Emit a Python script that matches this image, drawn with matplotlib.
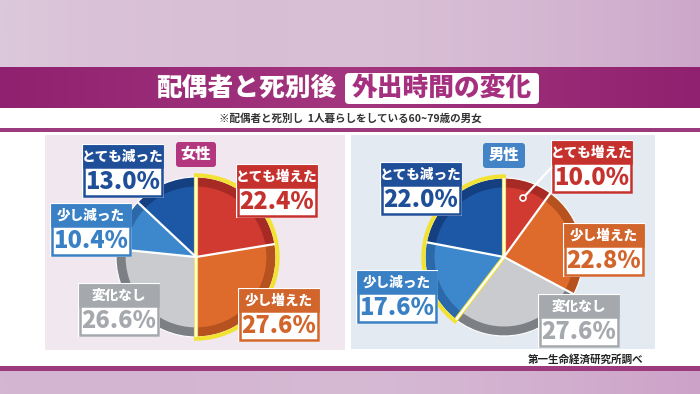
import matplotlib
matplotlib.use('Agg')
import matplotlib.pyplot as plt
import numpy as np
from matplotlib.patches import Rectangle, FancyBboxPatch, Wedge, Circle
from matplotlib.colors import to_rgb

plt.rcParams['font.family'] = ['Noto Sans CJK JP', 'DejaVu Sans']

# ---------------- data ----------------
categories = ['とても増えた', '少し増えた', '変化なし', '少し減った', 'とても減った']
female_values = [22.4, 27.6, 26.6, 10.4, 13.0]
male_values = [10.0, 22.8, 27.6, 17.6, 22.0]
panel_titles = ['女性', '男性']
title_left = '配偶者と死別後'
title_right = '外出時間の変化'
subtitle = '※配偶者と死別し  1人暮らしをしている60~79歳の男女'
source = '第一生命経済研究所調べ'

face_colors = ['#d13a30', '#de6a2c', '#c9cbce', '#3d88cd', '#1d58a7']
rim_colors = ['#a82a25', '#b5521f', '#7c7f83', '#2b69a9', '#143f81']
label_colors = ['#c5312d', '#d2652b', '#a5a9ad', '#3a80c4', '#1f4f98']
highlight = '#f2e234'

W, H = 700, 394
fig = plt.figure(figsize=(7, 3.94), dpi=100)

# ---------------- background ----------------
bg = fig.add_axes([0, 0, 1, 1])
bg.set_xlim(0, W); bg.set_ylim(H, 0); bg.axis('off')

def hgrad(ax, x0, x1, y0, y1, c_left, c_right, c_mid=None):
    n = 200
    t = np.linspace(0, 1, n)
    a, b = np.array(to_rgb(c_left)), np.array(to_rgb(c_right))
    base = a[None, :] * (1 - t[:, None]) + b[None, :] * t[:, None]
    if c_mid is None:
        cols = base
    else:
        m = np.array(to_rgb(c_mid))
        w = 1 - np.abs(2 * t - 1)
        cols = base * (1 - w[:, None]) + m[None, :] * w[:, None]
    img = cols[None, :, :]
    ax.imshow(img, extent=(x0, x1, y1, y0), aspect='auto', zorder=0, interpolation='bilinear')

bg.add_patch(Rectangle((0, 0), W, H, facecolor='white', edgecolor='none', zorder=-1))
hgrad(bg, 0, W, 0, 67, '#dcc8db', '#cda7ca', '#d9c0d6')
hgrad(bg, 0, W, 67, 108, '#8f2170', '#8f2170', '#a4367f')
bg.add_patch(Rectangle((0, 108), W, 20, facecolor='white', edgecolor='none', zorder=1))
bg.add_patch(Rectangle((0, 128), W, 4, facecolor='#9c3a7e', edgecolor='none', zorder=1))
bg.add_patch(Rectangle((0, 366), W, 5, facecolor='#9c3a7e', edgecolor='none', zorder=1))
hgrad(bg, 0, W, 371, H, '#d4b6d2', '#cda2c9', '#d6bad4')
bg.set_xlim(0, W); bg.set_ylim(H, 0)

# panels
bg.add_patch(Rectangle((45, 135), 300, 215, facecolor='#f1e8ef', edgecolor='none', zorder=1))
bg.add_patch(Rectangle((351, 135), 304, 214, facecolor='#e3eaf2', edgecolor='none', zorder=1))

# title
bg.text(246, 88, title_left, color='white', fontsize=18.5, fontweight='heavy',
        ha='center', va='center', zorder=3)
bg.add_patch(FancyBboxPatch((345, 73), 194, 31, boxstyle='round,pad=0,rounding_size=4',
                            facecolor='white', edgecolor='none', zorder=2))
bg.text(442, 88, title_right, color='#a5307f', fontsize=18.5, fontweight='heavy',
        ha='center', va='center', zorder=3)
bg.text(350, 118, subtitle, color='#333333', fontsize=7.6, fontweight='bold',
        ha='center', va='center', zorder=3)
bg.text(643, 359, source, color='#222222', fontsize=7.6, fontweight='bold',
        ha='right', va='center', zorder=3)

# ---------------- pies ----------------
def draw_pie(cx, cy, R, vals, hl_idx):
    box = 100
    ax = fig.add_axes([(cx - box) / W, (H - cy - box) / H, 2 * box / W, 2 * box / H])
    ax.pie(vals, colors=rim_colors, startangle=90, counterclock=False, radius=1.0,
           wedgeprops=dict(edgecolor='white', linewidth=0.8))
    ax.pie(vals, colors=face_colors, startangle=90, counterclock=False, radius=0.88,
           wedgeprops=dict(edgecolor='none'))
    cum = np.concatenate([[0], np.cumsum(vals)])
    angles = np.deg2rad(90 - 3.6 * cum[:-1])
    for a in angles:
        ax.plot([0, np.cos(a)], [0, np.sin(a)], color='white', lw=1.6, solid_capstyle='butt')
    t_start = 90 - 3.6 * cum[hl_idx[-1] + 1]
    t_end = 90 - 3.6 * cum[hl_idx[0]]
    ax.add_patch(Wedge((0, 0), 1.02, t_start, t_end, fill=False, edgecolor=highlight,
                       linewidth=3.0, joinstyle='miter'))
    ax.set_xlim(-box / R, box / R); ax.set_ylim(-box / R, box / R)
    ax.set_aspect('equal'); ax.axis('off')
    return ax

draw_pie(196, 257, 80, female_values, [0, 1])
draw_pie(504, 257, 79, male_values, [3, 4])

# ---------------- overlay labels ----------------
ov = fig.add_axes([0, 0, 1, 1])
ov.set_xlim(0, W); ov.set_ylim(H, 0); ov.axis('off'); ov.patch.set_alpha(0)

def label_box(x, y, head, value, color, w=78, hh=21, vh=29):
    ov.add_patch(Rectangle((x - 2, y - 2), w + 4, hh + vh + 4, facecolor='white', edgecolor='none'))
    ov.add_patch(Rectangle((x, y), w, hh + vh, facecolor='white', edgecolor=color, linewidth=1.8))
    ov.add_patch(Rectangle((x, y), w, hh, facecolor=color, edgecolor=color, linewidth=1.8))
    ov.text(x + w / 2, y + hh / 2, head, color='white', ha='center', va='center',
            fontsize=9.8, fontweight='heavy')
    ov.text(x + w / 2, y + hh + vh / 2 + 0.5, f'{value:.1f}%', color=color, ha='center',
            va='center', fontsize=17, fontweight='heavy')

def tag(x, y, w, h, text, color):
    ov.add_patch(FancyBboxPatch((x, y), w, h, boxstyle='round,pad=0,rounding_size=3',
                                facecolor=color, edgecolor='none'))
    ov.text(x + w / 2, y + h / 2, text, color='white', ha='center', va='center',
            fontsize=11, fontweight='heavy')

female_pos = [(238, 166), (240, 290), (80, 285), (52, 205), (84, 146)]
male_pos = [(553, 142), (565, 225), (540, 296), (358, 272), (382, 164)]

for i, (cat, v) in enumerate(zip(categories, female_values)):
    label_box(*female_pos[i], cat, v, label_colors[i])
for i, (cat, v) in enumerate(zip(categories, male_values)):
    label_box(*male_pos[i], cat, v, label_colors[i])

tag(176, 142, 40, 25, panel_titles[0], '#b2377f')
tag(483, 143, 42, 25, panel_titles[1], '#4384c6')

# leader line for male とても増えた
ov.plot([551, 523], [168, 198], color='white', lw=1.6, zorder=5)
ov.add_patch(Circle((523, 198), 3, facecolor='#c0302b', edgecolor='white', lw=1.2, zorder=6))

fig.savefig('out.png', dpi=100)
